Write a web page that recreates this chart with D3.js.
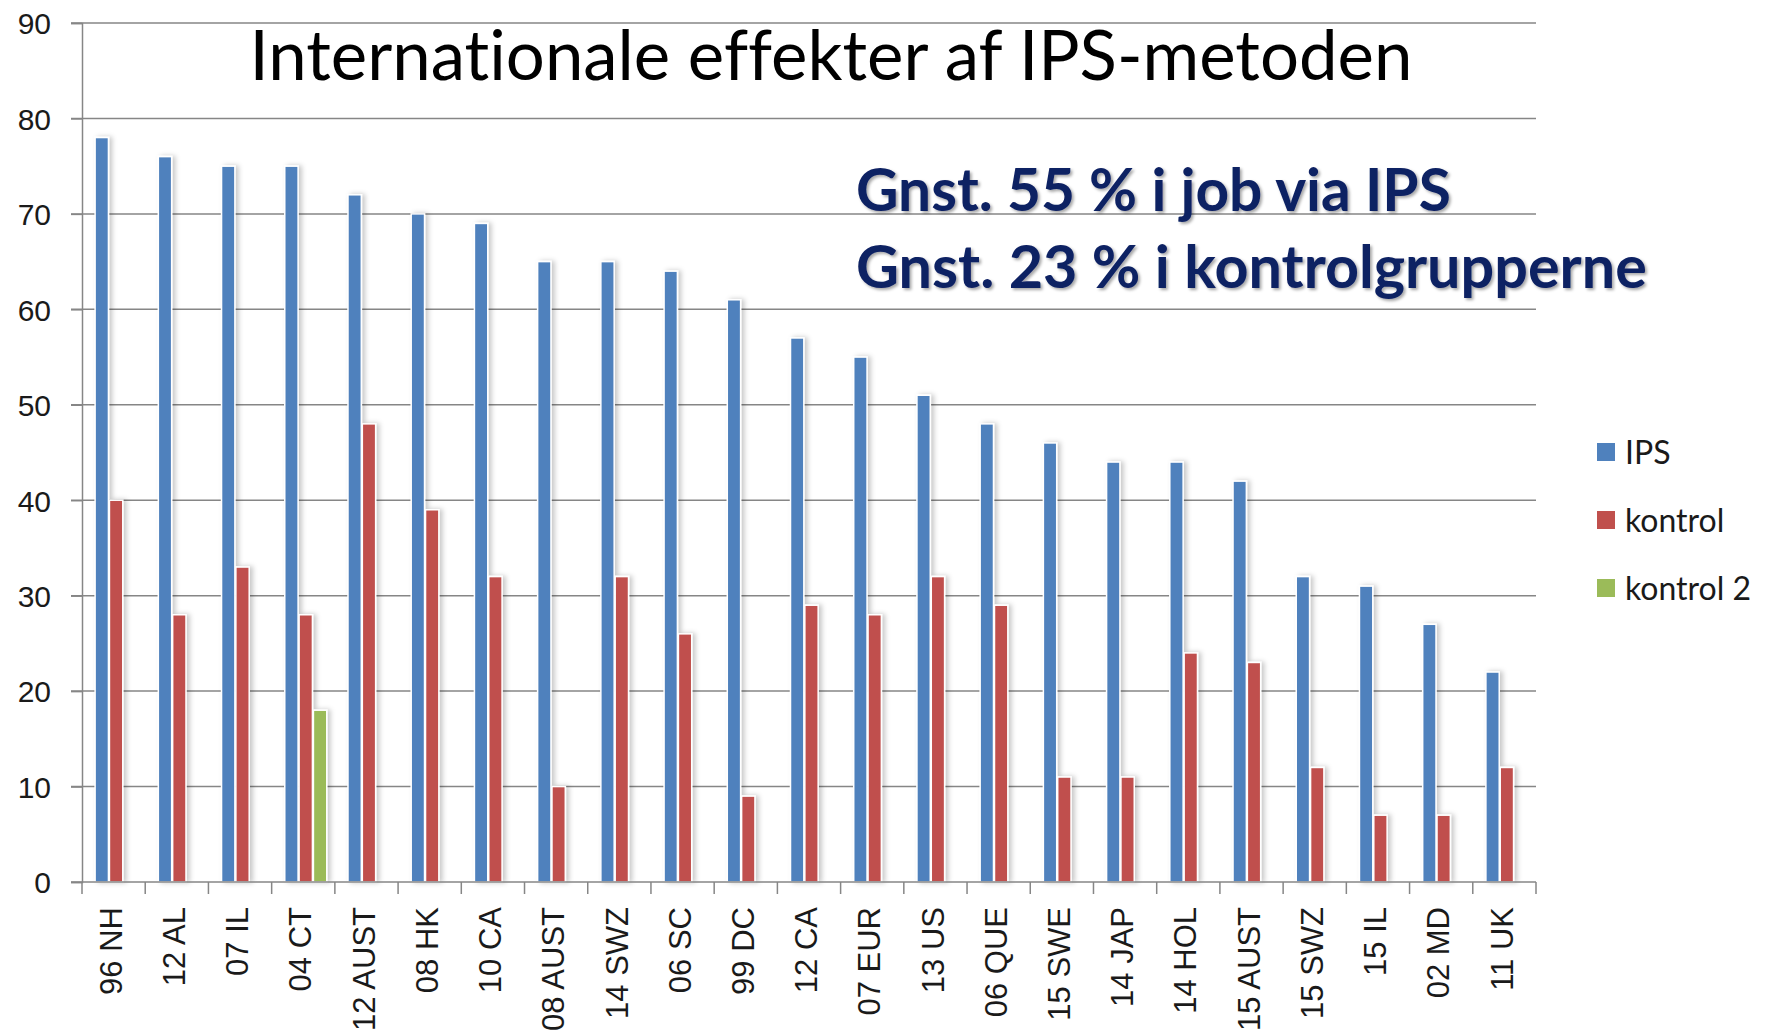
<!DOCTYPE html>
<meta charset="utf-8">
<script src="https://d3js.org/d3.v7.min.js"></script>
<style>
  body { margin: 0; background: #fff; }
  text { font-variant-ligatures: none; }
</style>
<div id="my_dataviz"></div>
<script>
    // data
    const categories = ["96 NH", "12 AL", "07 IL", "04 CT", "12 AUST", "08 HK", "10 CA", "08 AUST",
        "14 SWZ", "06 SC", "99 DC", "12 CA", "07 EUR", "13 US", "06 QUE", "15 SWE", "14 JAP",
        "14 HOL", "15 AUST", "15 SWZ", "15 IL", "02 MD", "11 UK"];
    const ips = [78, 76, 75, 75, 72, 70, 69, 65, 65, 64, 61, 57, 55, 51, 48, 46, 44, 44, 42, 32, 31, 27, 22];
    const kontrol = [40, 28, 33, 28, 48, 39, 32, 10, 32, 26, 9, 29, 28, 32, 29, 11, 11, 24, 23, 12, 7, 7, 12];
    const kontrol2 = [null, null, null, 18, null, null, null, null, null, null, null, null, null, null,
        null, null, null, null, null, null, null, null, null];
    const seriesNames = ["IPS", "kontrol", "kontrol 2"];
    const yTicks = [0, 10, 20, 30, 40, 50, 60, 70, 80, 90];
    const title = "Internationale effekter af IPS-metoden";
    const notes = ["Gnst. 55 % i job via IPS", "Gnst. 23 % i kontrolgrupperne"];

    const W = 1766, H = 1036;
    const margin = { top: 23, left: 82, right: 230, bottom: 154 };
    const plotW = W - margin.left - margin.right,
        plotH = H - margin.top - margin.bottom;

    const svg = d3.select("#my_dataviz").append("svg")
        .attr("width", W).attr("height", H);

    const defs = svg.append("defs");
    defs.append("filter").attr("id", "barShadow")
        .attr("x", "-50%").attr("width", "200%")
        .append("feDropShadow")
        .attr("dx", 3).attr("dy", 0).attr("stdDeviation", 2.5)
        .attr("flood-color", "#000").attr("flood-opacity", 0.22);
    defs.append("filter").attr("id", "textShadow")
        .append("feDropShadow")
        .attr("dx", 2).attr("dy", 2).attr("stdDeviation", 1.5)
        .attr("flood-color", "#000").attr("flood-opacity", 0.35);

    const g = svg.append("g")
        .attr("transform", "translate(" + margin.left + "," + margin.top + ")");

    const x0 = d3.scaleBand().domain(categories).range([0, plotW])
        .paddingInner(0.32).paddingOuter(0.16);
    const x1 = d3.scaleBand().domain(seriesNames).range([2.5, x0.bandwidth() + 2.5]);
    const y = d3.scaleLinear().domain([0, 90]).range([plotH, 0]);
    const color = d3.scaleOrdinal().domain(seriesNames).range(["#4F81BD", "#C0504D", "#9BBB59"]);

    const step = plotW / categories.length;
    const axisCol = "#868686";

    // gridlines
    g.append("g").selectAll("line").data(yTicks.filter(d => d > 0)).join("line")
        .attr("x1", -11).attr("x2", plotW)
        .attr("y1", d => y(d)).attr("y2", d => y(d))
        .attr("stroke", axisCol).attr("stroke-width", 1.5);

    // y axis
    const yAxis = g.append("g")
        .call(d3.axisLeft(y).tickValues(yTicks).tickSize(11).tickPadding(20));
    yAxis.select(".domain").attr("stroke", axisCol).attr("stroke-width", 1.5);
    yAxis.selectAll(".tick line").attr("stroke", axisCol).attr("stroke-width", 1.5);
    yAxis.selectAll("text")
        .attr("font-family", "'Liberation Sans', Arial, sans-serif")
        .attr("font-size", 30).attr("fill", "#1a1a1a")
        .attr("dy", "0.36em");

    // bars
    const rows = categories.map((c, i) => ({
        cat: c,
        vals: [{ s: "IPS", v: ips[i] }, { s: "kontrol", v: kontrol[i] }, { s: "kontrol 2", v: kontrol2[i] }]
            .filter(d => d.v != null)
    }));
    g.append("g").attr("filter", "url(#barShadow)")
        .selectAll("g").data(rows).join("g")
        .attr("transform", d => "translate(" + x0(d.cat) + ",0)")
        .selectAll("rect").data(d => d.vals).join("rect")
        .attr("x", d => x1(d.s) + 0.5)
        .attr("width", x1.bandwidth() - 1)
        .attr("y", d => y(d.v))
        .attr("height", d => y(0) - y(d.v))
        .attr("fill", d => color(d.s))
        .attr("stroke", "#fff").attr("stroke-width", 1.5);

    // x axis
    const xAxisG = g.append("g").attr("transform", "translate(0," + plotH + ")");
    xAxisG.append("line").attr("x1", -11).attr("x2", plotW)
        .attr("stroke", axisCol).attr("stroke-width", 1.5);
    xAxisG.selectAll(".tk").data(d3.range(categories.length + 1)).join("line")
        .attr("x1", i => i * step).attr("x2", i => i * step)
        .attr("y1", 0).attr("y2", 12)
        .attr("stroke", axisCol).attr("stroke-width", 1.5);
    xAxisG.selectAll("text").data(categories).join("text")
        .attr("transform", d => "translate(" + (x0(d) + x0.bandwidth() / 2 - 3) + ",25) rotate(-90)")
        .attr("text-anchor", "end")
        .attr("dy", "0.36em")
        .attr("font-family", "'Liberation Sans', Arial, sans-serif")
        .attr("font-size", 31).attr("fill", "#1a1a1a")
        .text(d => d);

    // helper: fit a text's font size to a target width
    function fit(sel, target) {
        const fs = +sel.attr("font-size");
        const w = sel.node().getComputedTextLength();
        sel.attr("font-size", fs * target / w);
    }

    // title
    const t = svg.append("text")
        .attr("x", 831).attr("y", 80)
        .attr("text-anchor", "middle")
        .attr("font-family", "Lato, 'Open Sans', sans-serif")
        .attr("font-size", 60).attr("fill", "#000")
        .text(title);
    fit(t, 1163);

    // annotation
    const n1 = svg.append("text").attr("x", 856).attr("y", 211)
        .attr("font-family", "Lato, 'Open Sans', sans-serif").attr("font-weight", "bold")
        .attr("font-size", 50).attr("fill", "#0E2163").attr("filter", "url(#textShadow)")
        .text(notes[0]);
    fit(n1, 595);
    const n2 = svg.append("text").attr("x", 856).attr("y", 288)
        .attr("font-family", "Lato, 'Open Sans', sans-serif").attr("font-weight", "bold")
        .attr("font-size", 50).attr("fill", "#0E2163").attr("filter", "url(#textShadow)")
        .text(notes[1]);
    fit(n2, 791);

    // legend
    const legend = svg.append("g").selectAll("g").data(seriesNames).join("g")
        .attr("transform", (d, i) => "translate(1597," + (443 + i * 68) + ")");
    legend.append("rect").attr("width", 18).attr("height", 18)
        .attr("fill", d => color(d));
    legend.append("text").attr("x", 28).attr("y", 9).attr("dy", "0.36em")
        .attr("font-family", "Lato, 'Open Sans', sans-serif")
        .attr("font-size", 32).attr("fill", "#1a1a1a")
        .text(d => d);
</script>
